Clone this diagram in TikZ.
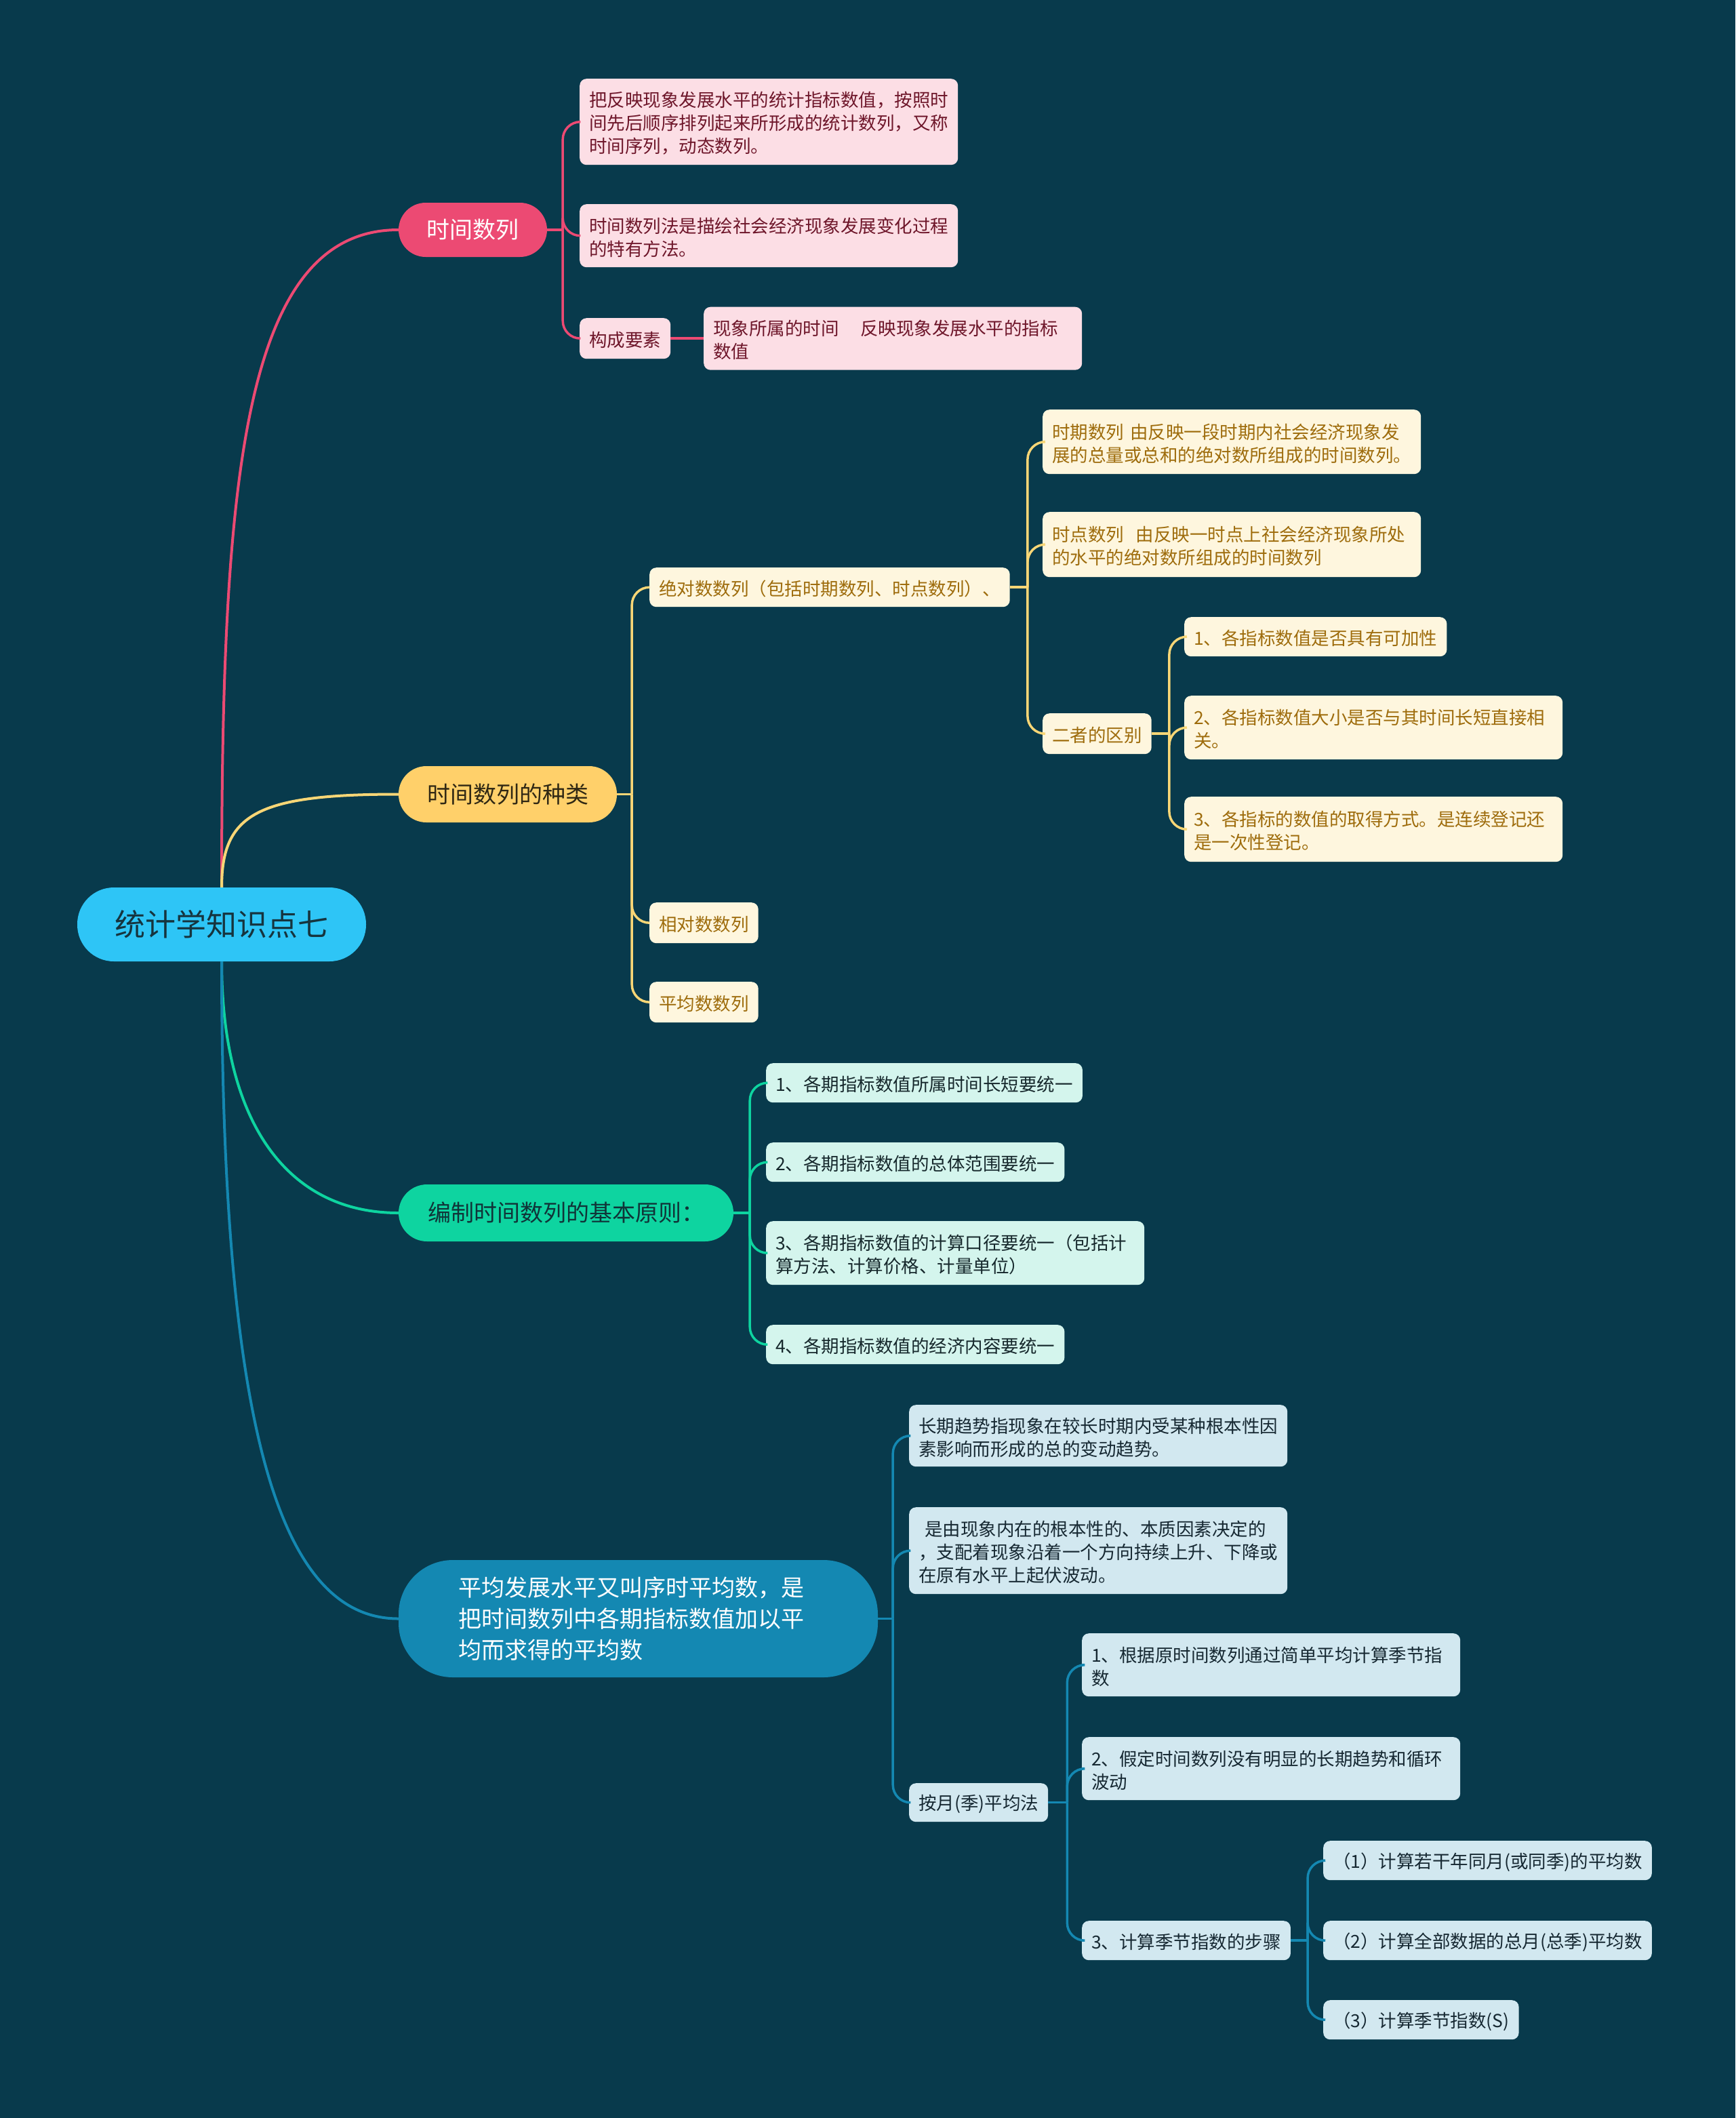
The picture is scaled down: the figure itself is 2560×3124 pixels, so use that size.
\documentclass[tikz,border=0pt]{standalone}
\usepackage{fontspec}
\setmainfont{Noto Sans CJK SC}
\definecolor{bg}{RGB}{8,58,76}
\definecolor{rootC}{RGB}{46,197,246}
\definecolor{rootT}{RGB}{22,52,62}
\definecolor{pinkC}{RGB}{236,74,115}
\definecolor{pinkL}{RGB}{252,222,229}
\definecolor{pinkT}{RGB}{110,22,42}
\definecolor{yelC}{RGB}{255,208,106}
\definecolor{yelT}{RGB}{48,40,20}
\definecolor{yelLine}{RGB}{248,214,118}
\definecolor{creamL}{RGB}{254,246,222}
\definecolor{creamT}{RGB}{158,108,12}
\definecolor{grnC}{RGB}{14,212,160}
\definecolor{grnT}{RGB}{16,52,56}
\definecolor{mintL}{RGB}{212,245,237}
\definecolor{mintT}{RGB}{22,40,44}
\definecolor{bluC}{RGB}{20,136,178}
\definecolor{bluL}{RGB}{210,232,240}
\definecolor{bluT}{RGB}{22,40,50}
\tikzset{
  leaf/.style={rounded corners=10pt, inner xsep=14pt, inner ysep=4pt, minimum height=58pt,
    font=\fontsize{26.5}{34}\selectfont, align=left, anchor=north west,
    execute at begin node={\rule{0pt}{27pt}}},
  wide/.style={text width=530pt},
  pleaf/.style={leaf, fill=pinkL, text=pinkT},
  cleaf/.style={leaf, fill=creamL, text=creamT},
  mleaf/.style={leaf, fill=mintL, text=mintT},
  bleaf/.style={leaf, fill=bluL, text=bluT},
  branch/.style={font=\fontsize{34}{46}\selectfont, align=center, inner sep=0pt},
  pl/.style={draw=pinkC, line width=3.5pt},
  yl/.style={draw=yelLine, line width=3.5pt},
  gl/.style={draw=grnC, line width=3.5pt},
  bl/.style={draw=bluC, line width=3.5pt},
  rc/.style={rounded corners=26pt},
}
\begin{document}
\begin{tikzpicture}[x=1pt,y=-1pt]
\useasboundingbox (0,0) rectangle (2560,3124);
\fill[bg] (0,0) rectangle (2560,3124);

% root
\node[fill=rootC, text=rootT, rounded corners=54pt, minimum width=426pt, minimum height=109pt,
  font=\fontsize{45}{50}\selectfont, inner sep=0pt] (root) at (327,1363.5) {统计学知识点七};

% branches
\node[branch, fill=pinkC, text=white, rounded corners=40pt, minimum width=219pt, minimum height=80pt] (B1) at (697.5,339) {时间数列};
\node[branch, fill=yelC, text=yelT, rounded corners=41pt, minimum width=322pt, minimum height=83pt] (B2) at (749,1171.5) {时间数列的种类};
\node[branch, fill=grnC, text=grnT, rounded corners=42pt, minimum width=494pt, minimum height=84pt] (B3) at (835,1789) {编制时间数列的基本原则：};
\node[branch, fill=bluC, text=white, rounded corners=80pt, minimum width=707pt, minimum height=173pt, align=left, text width=530pt, inner xsep=87pt] (B4) at (941.5,2387.5) {平均发展水平又叫序时平均数，是\\把时间数列中各期指标数值加以平\\均而求得的平均数};

% root connectors
\draw[pl, line width=4pt] (root.north) .. controls (327,700) and (360,339) .. (B1.west);
\draw[yl, line width=4pt] (root.north) .. controls (327,1200) and (380,1171.5) .. (B2.west);
\draw[gl, line width=4pt] (root.south) .. controls (327,1650) and (420,1789) .. (B3.west);
\draw[bl, line width=4pt] (root.south) .. controls (327,2100) and (410,2387.5) .. (B4.west);

% branch 1 leaves
\node[pleaf, wide, minimum height=127pt] (L11) at (855,116) {把反映现象发展水平的统计指标数值，按照时\\间先后顺序排列起来所形成的统计数列，又称\\时间序列，动态数列。};
\node[pleaf, wide, minimum height=93pt] (L12) at (855,301) {时间数列法是描绘社会经济现象发展变化过程\\的特有方法。};
\node[pleaf, minimum height=60pt] (L13) at (855,469) {构成要素};
\node[pleaf, wide, minimum height=93pt] (L131) at (1038,452.5) {现象所属的时间\hspace{1.2em}反映现象发展水平的指标\\数值};

\draw[pl] (B1.east) -- ++(23,0) coordinate (s1);
\draw[pl, rc] (s1) |- (L11.west);
\draw[pl, rc] (s1) |- (L12.west);
\draw[pl, rc] (s1) |- (L13.west);
\draw[pl] (L13.east) -- (L131.west);

% branch 2 leaves
\node[cleaf] (L21) at (958,837) {绝对数数列（包括时期数列、时点数列）、};
\node[cleaf, minimum height=60pt] (L22) at (958,1331) {相对数数列};
\node[cleaf, minimum height=60pt] (L23) at (958,1448) {平均数数列};
\node[cleaf, wide, minimum height=95pt] (L211) at (1538,604) {时期数列 由反映一段时期内社会经济现象发\\展的总量或总和的绝对数所组成的时间数列。};
\node[cleaf, wide, minimum height=96pt] (L212) at (1538,755) {时点数列\ \ 由反映一时点上社会经济现象所处\\的水平的绝对数所组成的时间数列};
\node[cleaf, minimum height=60pt] (L213) at (1538,1052) {二者的区别};
\node[cleaf] (L2131) at (1747,910) {1、各指标数值是否具有可加性};
\node[cleaf, wide, minimum height=94pt] (L2132) at (1747,1026) {2、各指标数值大小是否与其时间长短直接相\\关。};
\node[cleaf, wide, minimum height=96pt] (L2133) at (1747,1175) {3、各指标的数值的取得方式。是连续登记还\\是一次性登记。};

\draw[yl] (B2.east) -- ++(22,0) coordinate (s2);
\draw[yl, rc] (s2) |- (L21.west);
\draw[yl, rc] (s2) |- (L22.west);
\draw[yl, rc] (s2) |- (L23.west);
\draw[yl] (L21.east) -- ++(26,0) coordinate (s21);
\draw[yl, rc] (s21) |- (L211.west);
\draw[yl, rc] (s21) |- (L212.west);
\draw[yl, rc] (s21) |- (L213.west);
\draw[yl] (L213.east) -- ++(26,0) coordinate (s213);
\draw[yl, rc] (s213) |- (L2131.west);
\draw[yl, rc] (s213) |- (L2132.west);
\draw[yl, rc] (s213) |- (L2133.west);

% branch 3 leaves
\node[mleaf] (L31) at (1130,1568) {1、各期指标数值所属时间长短要统一};
\node[mleaf] (L32) at (1130,1685) {2、各期指标数值的总体范围要统一};
\node[mleaf, wide, minimum height=94pt] (L33) at (1130,1801) {3、各期指标数值的计算口径要统一（包括计\\算方法、计算价格、计量单位）};
\node[mleaf] (L34) at (1130,1954) {4、各期指标数值的经济内容要统一};

\draw[gl] (B3.east) -- ++(24,0) coordinate (s3);
\draw[gl, rc] (s3) |- (L31.west);
\draw[gl, rc] (s3) |- (L32.west);
\draw[gl, rc] (s3) |- (L33.west);
\draw[gl, rc] (s3) |- (L34.west);

% branch 4 leaves
\node[bleaf, wide, minimum height=91pt] (L41) at (1341,2072) {长期趋势指现象在较长时期内受某种根本性因\\素影响而形成的总的变动趋势。};
\node[bleaf, wide, minimum height=128pt] (L42) at (1341,2223) {\ 是由现象内在的根本性的、本质因素决定的\\，支配着现象沿着一个方向持续上升、下降或\\在原有水平上起伏波动。};
\node[bleaf, minimum height=57pt] (L43) at (1341,2630) {按月(季)平均法};
\node[bleaf, wide, minimum height=93pt] (L431) at (1596,2409) {1、根据原时间数列通过简单平均计算季节指\\数};
\node[bleaf, wide, minimum height=93pt] (L432) at (1596,2562) {2、假定时间数列没有明显的长期趋势和循环\\波动};
\node[bleaf] (L433) at (1596,2833) {3、计算季节指数的步骤};
\node[bleaf] (L4331) at (1952,2715) {（1）计算若干年同月(或同季)的平均数};
\node[bleaf] (L4332) at (1952,2833) {（2）计算全部数据的总月(总季)平均数};
\node[bleaf] (L4333) at (1952,2950) {（3）计算季节指数(S)};

\draw[bl] (B4.east) -- ++(22,0) coordinate (s4);
\draw[bl, rc] (s4) |- (L41.west);
\draw[bl, rc] (s4) |- (L42.west);
\draw[bl, rc] (s4) |- (L43.west);
\draw[bl] (L43.east) -- ++(28,0) coordinate (s43);
\draw[bl, rc] (s43) |- (L431.west);
\draw[bl, rc] (s43) |- (L432.west);
\draw[bl, rc] (s43) |- (L433.west);
\draw[bl] (L433.east) -- ++(25,0) coordinate (s433);
\draw[bl, rc] (s433) |- (L4331.west);
\draw[bl, rc] (s433) |- (L4332.west);
\draw[bl, rc] (s433) |- (L4333.west);
\end{tikzpicture}
\end{document}
